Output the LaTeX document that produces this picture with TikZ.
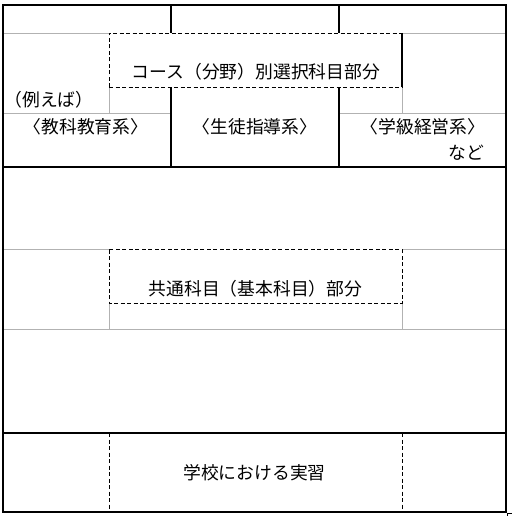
\documentclass[tikz,border=0pt]{standalone}
\usepackage{fontspec}
\setmainfont{Noto Sans CJK JP}
\begin{document}
\begin{tikzpicture}[x=1pt,y=-1pt,
  thickline/.style={line width=2.2pt,black},
  dashline/.style={line width=0.9pt,black,dash pattern=on 4pt off 2.5pt},
  grayline/.style={line width=0.8pt,gray!60},
  lbl/.style={inner sep=0pt,font=\fontsize{17.8}{20}\selectfont}]
\useasboundingbox (0,0) rectangle (512,516);
% gray thin lines
\draw[grayline] (3,33)--(109,33) (402,33)--(506,33);
\draw[grayline] (109,87.5)--(109,113) (402,87.5)--(402,113);
\draw[grayline] (3,113)--(171,113) (339,113)--(506,113);
\draw[grayline] (3,249.5)--(109,249.5) (402,249.5)--(506,249.5);
\draw[grayline] (3,329)--(506,329);
\draw[grayline] (109,303)--(109,329) (402,303)--(402,329);
% dashed lines
\draw[dashline] (109,87.5)--(109,33)--(402,33);
\draw[dashline] (109,87.5)--(402,87.5);
\draw[dashline] (109,249.5) rectangle (402,303);
\draw[dashline] (109,433)--(109,512) (402,433)--(402,512);
% thick lines
\draw[thickline] (3,5) rectangle (506,512);
\draw[thickline] (3,167)--(506,167) (3,433)--(506,433);
\draw[thickline] (171,5)--(171,33) (171,87.5)--(171,167);
\draw[thickline] (339,5)--(339,33) (339,87.5)--(339,167);
\draw[thickline] (402,33)--(402,87.5);
% small corner mark
\draw[line width=0.8pt] (507.5,516)--(507.5,513.5)--(512,513.5);
% texts
\node[lbl] (course) at (256,72) {コース（分野）別選択科目部分};
\node[lbl] (eg) at (49,100) {（例えば）};
\node[lbl] (kyoka) at (86,127) {〈教科教育系〉};
\node[lbl] (seito) at (255,127) {〈生徒指導系〉};
\node[lbl] (gakkyu) at (423,127) {〈学級経営系〉};
\node[lbl] (nado) at (466,153) {など};
\node[lbl] (kyotsu) at (255.5,289) {共通科目（基本科目）部分};
\node[lbl] (jisshu) at (254.5,473) {学校における実習};
\end{tikzpicture}
\end{document}
